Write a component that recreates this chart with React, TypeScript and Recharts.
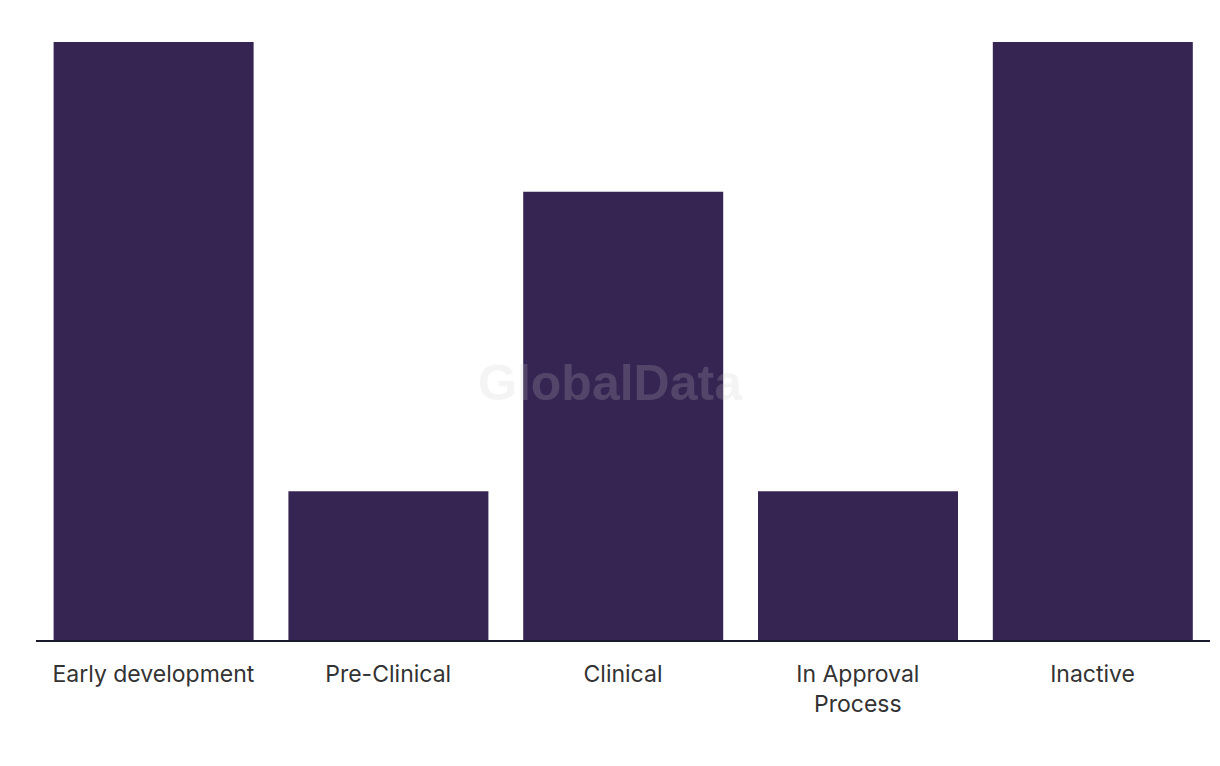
import React from "react";
import { BarChart, Bar, XAxis, YAxis } from "recharts";

const categories = ["Early development", "Pre-Clinical", "Clinical", "In Approval Process", "Inactive"];
const values = [4, 1, 3, 1, 4];
const tickLines: Record<string, string[]> = {
  "In Approval Process": ["In Approval", "Process"],
};

const data = categories.map((c, i) => ({ name: c, value: values[i] }));

const Tick = (props: any) => {
  const { x, y, payload } = props;
  const lines = tickLines[payload.value] || [payload.value];
  return (
    <text x={x} y={y} textAnchor="middle" fill="#333333" fontSize={23} fontFamily="Inter, sans-serif">
      {lines.map((l: string, i: number) => (
        <tspan key={i} x={x} dy={i === 0 ? 33 : 30}>{l}</tspan>
      ))}
    </text>
  );
};

export default function App() {
  return (
    <div style={{ position: "relative", width: 1220, height: 766, margin: "-8px 0 0 -8px", background: "#fff" }}>
      <BarChart width={1220} height={766} data={data} margin={{ top: 42, right: 10, bottom: 0, left: 36 }} barCategoryGap="7.5%">
        <XAxis dataKey="name" axisLine={{ stroke: "#1a1a2e", strokeWidth: 2 }} tickLine={false} tick={<Tick />} interval={0} height={125} />
        <YAxis hide domain={[0, 4]} />
        <Bar dataKey="value" fill="#362452" isAnimationActive={false} />
      </BarChart>
      <div style={{ position: "absolute", left: 0, top: 356, width: 1220, textAlign: "center", fontFamily: "'Liberation Sans', Arial, sans-serif", fontWeight: "bold", fontSize: 50, color: "rgba(200,200,200,0.2)", pointerEvents: "none", lineHeight: "54px" }}>
        GlobalData
      </div>
    </div>
  );
}
